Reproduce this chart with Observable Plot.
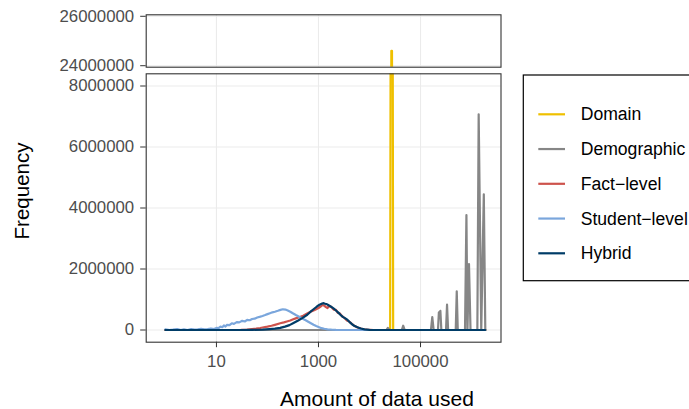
<!DOCTYPE html>
<html><head><meta charset="utf-8">
<script src="https://cdn.jsdelivr.net/npm/d3@7"></script>
<script src="https://cdn.jsdelivr.net/npm/@observablehq/plot@0.6"></script>
<style>
html,body{margin:0;padding:0;background:#fff;}
#chart{position:relative;width:689px;height:409px;overflow:hidden;font-family:"Liberation Sans",Arial,sans-serif;}
#chart > svg{position:absolute;left:0;overflow:visible;}
</style></head><body><div id="chart"></div>
<script>
const seriesNames = ["Domain", "Demographic", "Fact\u2212level", "Student\u2212level", "Hybrid"];
const seriesColors = ["#EFC000", "#868686", "#CD534C", "#7AA6DC", "#003C67"];
const xTicks = [10, 1000, 100000];
const yTicksTop = [24000000, 26000000];
const yTicksBottom = [0, 2000000, 4000000, 6000000, 8000000];

const domainX = [1, 25400, 26800, 27600, 29100, 1860000];
const domainY = [0, 0, 24600000, 24600000, 0, 0];

const demoX = [1, 21500, 22900, 24500, 43000, 45700, 49000, 160000, 170000, 181000, 220000, 229000, 237000, 245000, 256000, 316000, 331000, 347000, 490000, 513000, 537000, 745000, 794000, 832000, 891000, 955000, 1300000, 1380000, 1550000, 1740000, 1860000];
const demoY = [0, 0, 70000, 0, 0, 140000, 0, 0, 420000, 0, 0, 580000, 500000, 630000, 0, 0, 830000, 0, 0, 1270000, 0, 0, 3770000, 0, 2160000, 0, 0, 7070000, 0, 4450000, 0];

const factX = [1, 20, 30, 40, 50, 60, 72, 85, 100, 120, 140, 178, 210, 240, 280, 320, 370, 420, 500, 600, 700, 800, 900, 1000, 1100, 1200, 1300, 1400, 1500, 1600, 1750, 1900, 2000, 2200, 2400, 2600, 2900, 3200, 3600, 4000, 4500, 5000, 5600, 6300, 7500, 9000, 12000, 1860000];
const factY = [0, 0, 5000, 15000, 30000, 45000, 65000, 90000, 110000, 140000, 170000, 220000, 250000, 280000, 310000, 350000, 390000, 420000, 470000, 540000, 600000, 640000, 680000, 720000, 770000, 820000, 800000, 750000, 720000, 780000, 770000, 700000, 670000, 660000, 560000, 550000, 450000, 400000, 310000, 280000, 200000, 140000, 100000, 60000, 25000, 10000, 0, 0];

const studentX = [1, 1.2, 1.4, 1.7, 2, 2.3, 2.7, 3.2, 3.7, 4.3, 5, 5.8, 6.7, 7.8, 9, 10, 11, 12, 13, 14, 15, 16, 18, 20, 22, 25, 28, 32, 36, 40, 45, 50, 56, 63, 70, 80, 90, 100, 112, 125, 140, 160, 180, 200, 225, 250, 280, 320, 360, 400, 450, 500, 560, 630, 710, 800, 900, 1000, 1150, 1300, 1500, 1800, 2200, 3000, 1860000];
const studentY = [20000, 0, 10000, 30000, 0, 20000, 0, 30000, 10000, 20000, 40000, 20000, 30000, 50000, 30000, 70000, 60000, 110000, 90000, 150000, 110000, 170000, 160000, 220000, 200000, 260000, 250000, 300000, 280000, 330000, 320000, 360000, 370000, 410000, 430000, 460000, 490000, 520000, 550000, 580000, 600000, 630000, 660000, 680000, 670000, 640000, 600000, 540000, 490000, 450000, 400000, 360000, 320000, 270000, 220000, 170000, 130000, 100000, 60000, 40000, 20000, 10000, 3000, 0, 0];

const hybridX = [1, 30, 50, 80, 110, 140, 178, 220, 270, 324, 400, 480, 603, 700, 800, 933, 1050, 1180, 1260, 1350, 1450, 1550, 1700, 1850, 2000, 2200, 2450, 2690, 3000, 3300, 3720, 4200, 4600, 5010, 5800, 6760, 8000, 10000, 12000, 1860000];
const hybridY = [0, 0, 5000, 15000, 30000, 45000, 70000, 110000, 160000, 230000, 310000, 390000, 500000, 600000, 680000, 770000, 830000, 870000, 880000, 860000, 850000, 820000, 780000, 740000, 700000, 640000, 570000, 500000, 430000, 390000, 330000, 240000, 180000, 140000, 90000, 50000, 20000, 5000, 0, 0];

const seriesX = [domainX, demoX, factX, studentX, hybridX];
const seriesY = [domainY, demoY, factY, studentY, hybridY];
const rows = seriesNames.flatMap((s, i) => seriesX[i].map((x, j) => ({series: s, x, y: seriesY[i][j]})));

const chart = document.getElementById("chart");
const W = 689;
const mL = 145.7, mR = 188.5;
const xOpts = {type: "log", domain: [0.42, 3780000]};
const colorOpts = {domain: seriesNames, range: seriesColors};
const fontStyle = {fontFamily: "'Liberation Sans', Arial, sans-serif", fontSize: "16.8px", background: "transparent", overflow: "visible"};
const fmt = d => String(d);
const lineW = 2.2;

const topPanel = Plot.plot({
  width: W, height: 70,
  marginLeft: mL, marginRight: mR, marginTop: 14.3, marginBottom: 3.3,
  style: fontStyle,
  x: {...xOpts, axis: null},
  y: {domain: [23940000, 26060000], axis: null},
  color: colorOpts,
  marks: [
    Plot.ruleX(xTicks, {x: d => d, stroke: "#ebebeb", strokeWidth: 1.1}),
    Plot.ruleY(yTicksTop, {y: d => d, stroke: "#ebebeb", strokeWidth: 1.1}),
    Plot.line(rows, {x: "x", y: "y", z: "series", stroke: "series", strokeWidth: lineW, clip: true}),
    Plot.frame({stroke: "#333333", strokeWidth: 1.1}),
    Plot.axisY(yTicksTop, {tickSize: 5.5, tickPadding: 6.5, tickFormat: fmt, stroke: "#333333", fill: "#4d4d4d", label: null})
  ]
});
topPanel.style.top = "0px";
chart.appendChild(topPanel);

const bottomPanel = Plot.plot({
  width: W, height: 339,
  marginLeft: mL, marginRight: mR, marginTop: 3.3, marginBottom: 67.3,
  style: fontStyle,
  x: {...xOpts, axis: null},
  y: {domain: [-400000, 8400000], axis: null},
  color: colorOpts,
  marks: [
    Plot.ruleX(xTicks, {x: d => d, stroke: "#ebebeb", strokeWidth: 1.1}),
    Plot.ruleY(yTicksBottom, {y: d => d, stroke: "#ebebeb", strokeWidth: 1.1}),
    Plot.line(rows, {x: "x", y: "y", z: "series", stroke: "series", strokeWidth: lineW, clip: true}),
    Plot.frame({stroke: "#333333", strokeWidth: 1.1}),
    Plot.axisY(yTicksBottom, {tickSize: 5.5, tickPadding: 6.5, tickFormat: fmt, stroke: "#333333", fill: "#4d4d4d", label: null}),
    Plot.axisX(xTicks, {tickSize: 5.5, tickPadding: 7.5, tickFormat: fmt, stroke: "#333333", fill: "#4d4d4d", label: null})
  ]
});
bottomPanel.style.top = "70px";
chart.appendChild(bottomPanel);

// overlay: axis titles and legend
const svg = d3.select(chart).append("svg")
  .attr("width", W).attr("height", 409)
  .style("top", "0px")
  .style("font-family", "'Liberation Sans', Arial, sans-serif");

svg.append("text").attr("x", 377).attr("y", 406).attr("text-anchor", "middle")
  .attr("font-size", 21).attr("fill", "#000").text("Amount of data used");
svg.append("text").attr("transform", "translate(28.5,191) rotate(-90)").attr("text-anchor", "middle")
  .attr("font-size", 20.5).attr("fill", "#000").text("Frequency");

const lg = svg.append("g");
lg.append("rect").attr("x", 523.3).attr("y", 75).attr("width", 220).attr("height", 205.7)
  .attr("fill", "#fff").attr("stroke", "#000").attr("stroke-width", 1.2);
seriesNames.forEach((s, i) => {
  const y = 114.3 + i * 34.75;
  lg.append("line").attr("x1", 538.3).attr("x2", 565).attr("y1", y).attr("y2", y)
    .attr("stroke", seriesColors[i]).attr("stroke-width", 2.2);
  lg.append("text").attr("x", 580.7).attr("y", y).attr("dy", "0.35em")
    .attr("font-size", 17.6).attr("fill", "#000").text(s);
});
</script>
</body></html>
